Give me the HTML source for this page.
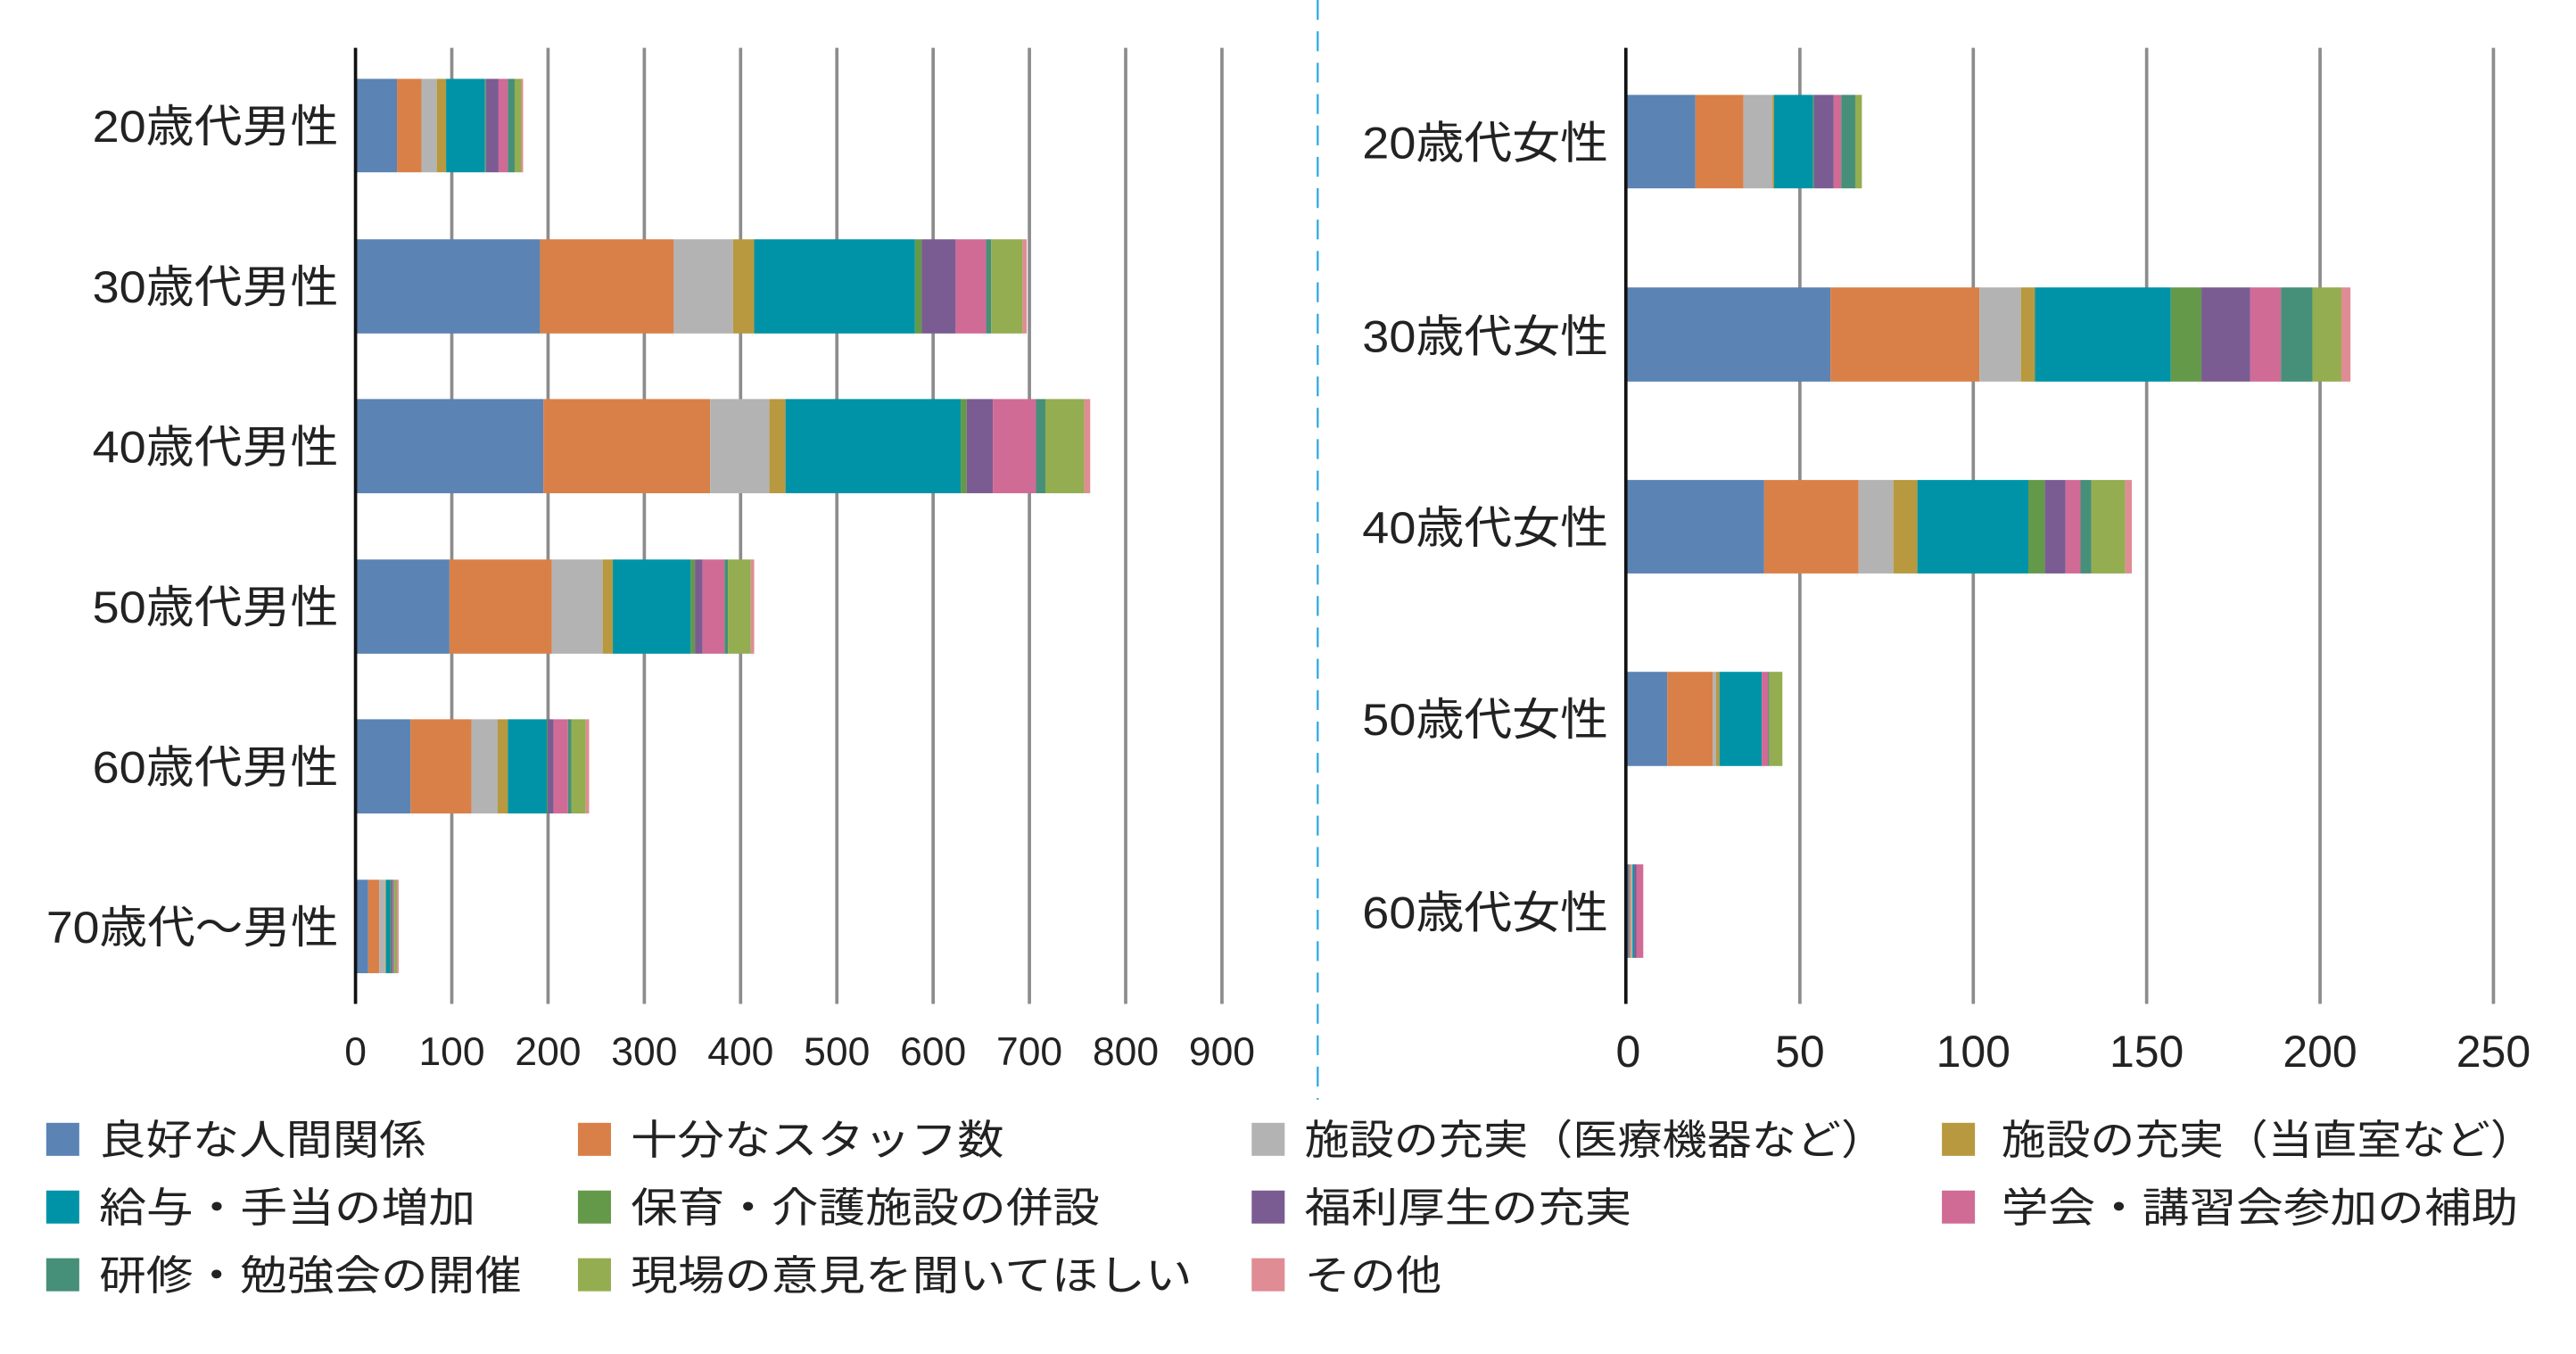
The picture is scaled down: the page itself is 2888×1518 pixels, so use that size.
<!DOCTYPE html>
<html><head><meta charset="utf-8"><style>html,body{margin:0;padding:0;background:#fff}svg{display:block}text{font-family:"Liberation Sans","Noto Sans CJK JP",sans-serif;fill:#222}</style></head><body>
<svg width="2888" height="1518" viewBox="0 0 1560 820" preserveAspectRatio="none" xmlns="http://www.w3.org/2000/svg">
<rect width="1560" height="820" fill="#fff"/>
<!-- left grid -->
<g stroke="#8c8c8c" stroke-width="2">
<line x1="273.6" y1="29" x2="273.6" y2="608"/><line x1="331.9" y1="29" x2="331.9" y2="608"/><line x1="390.2" y1="29" x2="390.2" y2="608"/><line x1="448.5" y1="29" x2="448.5" y2="608"/><line x1="506.8" y1="29" x2="506.8" y2="608"/><line x1="565.1" y1="29" x2="565.1" y2="608"/><line x1="623.4" y1="29" x2="623.4" y2="608"/><line x1="681.7" y1="29" x2="681.7" y2="608"/><line x1="740" y1="29" x2="740" y2="608"/>
<line x1="1090" y1="29" x2="1090" y2="608"/><line x1="1195" y1="29" x2="1195" y2="608"/><line x1="1300" y1="29" x2="1300" y2="608"/><line x1="1405" y1="29" x2="1405" y2="608"/><line x1="1510" y1="29" x2="1510" y2="608"/>
</g>
<g transform="scale(0.5126,0.4225)">
<g transform="translate(0,113)"><rect x="420" width="49" height="134" fill="#5b83b4"/><rect x="469" width="29" height="134" fill="#d98049"/><rect x="498" width="18" height="134" fill="#b3b3b3"/><rect x="516" width="11" height="134" fill="#b8993f"/><rect x="527" width="46" height="134" fill="#0093a7"/><rect x="573" width="1" height="134" fill="#64994a"/><rect x="574" width="15" height="134" fill="#7b5c92"/><rect x="589" width="11" height="134" fill="#d06b96"/><rect x="600" width="8" height="134" fill="#468f78"/><rect x="608" width="8" height="134" fill="#93ad50"/><rect x="616" width="2" height="134" fill="#df8c94"/></g>
<g transform="translate(0,343)"><rect x="420" width="218" height="135" fill="#5b83b4"/><rect x="638" width="158" height="135" fill="#d98049"/><rect x="796" width="70" height="135" fill="#b3b3b3"/><rect x="866" width="25" height="135" fill="#b8993f"/><rect x="891" width="190" height="135" fill="#0093a7"/><rect x="1081" width="8" height="135" fill="#64994a"/><rect x="1089" width="40" height="135" fill="#7b5c92"/><rect x="1129" width="36" height="135" fill="#d06b96"/><rect x="1165" width="6" height="135" fill="#468f78"/><rect x="1171" width="37" height="135" fill="#93ad50"/><rect x="1208" width="5" height="135" fill="#df8c94"/></g>
<g transform="translate(0,572)"><rect x="420" width="222" height="135" fill="#5b83b4"/><rect x="642" width="197" height="135" fill="#d98049"/><rect x="839" width="70" height="135" fill="#b3b3b3"/><rect x="909" width="19" height="135" fill="#b8993f"/><rect x="928" width="207" height="135" fill="#0093a7"/><rect x="1135" width="7" height="135" fill="#64994a"/><rect x="1142" width="31" height="135" fill="#7b5c92"/><rect x="1173" width="51" height="135" fill="#d06b96"/><rect x="1224" width="11" height="135" fill="#468f78"/><rect x="1235" width="46" height="135" fill="#93ad50"/><rect x="1281" width="7" height="135" fill="#df8c94"/></g>
<g transform="translate(0,802)"><rect x="420" width="111" height="135" fill="#5b83b4"/><rect x="531" width="121" height="135" fill="#d98049"/><rect x="652" width="60" height="135" fill="#b3b3b3"/><rect x="712" width="12" height="135" fill="#b8993f"/><rect x="724" width="92" height="135" fill="#0093a7"/><rect x="816" width="5" height="135" fill="#64994a"/><rect x="821" width="9" height="135" fill="#7b5c92"/><rect x="830" width="26" height="135" fill="#d06b96"/><rect x="856" width="4" height="135" fill="#468f78"/><rect x="860" width="27" height="135" fill="#93ad50"/><rect x="887" width="4" height="135" fill="#df8c94"/></g>
<g transform="translate(0,1031)"><rect x="420" width="65" height="135" fill="#5b83b4"/><rect x="485" width="72" height="135" fill="#d98049"/><rect x="557" width="31" height="135" fill="#b3b3b3"/><rect x="588" width="12" height="135" fill="#b8993f"/><rect x="600" width="46" height="135" fill="#0093a7"/><rect x="646" width="1" height="135" fill="#64994a"/><rect x="647" width="7" height="135" fill="#7b5c92"/><rect x="654" width="17" height="135" fill="#d06b96"/><rect x="671" width="4" height="135" fill="#468f78"/><rect x="675" width="17" height="135" fill="#93ad50"/><rect x="692" width="4" height="135" fill="#df8c94"/></g>
<g transform="translate(0,1261)"><rect x="420" width="15" height="134" fill="#5b83b4"/><rect x="435" width="13" height="134" fill="#d98049"/><rect x="448" width="7" height="134" fill="#b3b3b3"/><rect x="455" width="1" height="134" fill="#b8993f"/><rect x="456" width="5" height="134" fill="#0093a7"/><rect x="461" width="1" height="134" fill="#64994a"/><rect x="462" width="2" height="134" fill="#7b5c92"/><rect x="464" width="1" height="134" fill="#d06b96"/><rect x="465" width="1" height="134" fill="#468f78"/><rect x="466" width="3" height="134" fill="#93ad50"/><rect x="469" width="2" height="134" fill="#df8c94"/></g>
</g>
<g transform="translate(778,0) scale(0.5015,0.4225)">
<g transform="translate(0,136)"><rect x="412" width="84" height="134" fill="#5b83b4"/><rect x="496" width="58" height="134" fill="#d98049"/><rect x="554" width="35" height="134" fill="#b3b3b3"/><rect x="589" width="2" height="134" fill="#b8993f"/><rect x="591" width="47" height="134" fill="#0093a7"/><rect x="638" width="1" height="134" fill="#64994a"/><rect x="639" width="24" height="134" fill="#7b5c92"/><rect x="663" width="9" height="134" fill="#d06b96"/><rect x="672" width="17" height="134" fill="#468f78"/><rect x="689" width="8" height="134" fill="#93ad50"/></g>
<g transform="translate(0,412)"><rect x="412" width="247" height="135" fill="#5b83b4"/><rect x="659" width="180" height="135" fill="#d98049"/><rect x="839" width="50" height="135" fill="#b3b3b3"/><rect x="889" width="17" height="135" fill="#b8993f"/><rect x="906" width="164" height="135" fill="#0093a7"/><rect x="1070" width="37" height="135" fill="#64994a"/><rect x="1107" width="59" height="135" fill="#7b5c92"/><rect x="1166" width="37" height="135" fill="#d06b96"/><rect x="1203" width="38" height="135" fill="#468f78"/><rect x="1241" width="35" height="135" fill="#93ad50"/><rect x="1276" width="11" height="135" fill="#df8c94"/></g>
<g transform="translate(0,688)"><rect x="412" width="167" height="134" fill="#5b83b4"/><rect x="579" width="114" height="134" fill="#d98049"/><rect x="693" width="42" height="134" fill="#b3b3b3"/><rect x="735" width="29" height="134" fill="#b8993f"/><rect x="764" width="134" height="134" fill="#0093a7"/><rect x="898" width="20" height="134" fill="#64994a"/><rect x="918" width="25" height="134" fill="#7b5c92"/><rect x="943" width="18" height="134" fill="#d06b96"/><rect x="961" width="13" height="134" fill="#468f78"/><rect x="974" width="41" height="134" fill="#93ad50"/><rect x="1015" width="8" height="134" fill="#df8c94"/></g>
<g transform="translate(0,963)"><rect x="412" width="50" height="135" fill="#5b83b4"/><rect x="462" width="55" height="135" fill="#d98049"/><rect x="517" width="4" height="135" fill="#b3b3b3"/><rect x="521" width="4" height="135" fill="#b8993f"/><rect x="525" width="51" height="135" fill="#0093a7"/><rect x="576" width="8" height="135" fill="#d06b96"/><rect x="584" width="1" height="135" fill="#468f78"/><rect x="585" width="16" height="135" fill="#93ad50"/></g>
<g transform="translate(0,1239)"><rect x="412" width="4" height="134" fill="#5b83b4"/><rect x="416" width="2" height="134" fill="#d98049"/><rect x="418" width="2" height="134" fill="#b3b3b3"/><rect x="420" width="2" height="134" fill="#0093a7"/><rect x="422" width="3" height="134" fill="#7b5c92"/><rect x="425" width="8" height="134" fill="#d06b96"/></g>
</g>
<!-- axes -->
<line x1="215.3" y1="29" x2="215.3" y2="608" stroke="#111" stroke-width="2"/>
<line x1="984.6" y1="29" x2="984.6" y2="608" stroke="#111" stroke-width="2"/>
<line x1="798" y1="0" x2="798" y2="666" stroke="#29a8e0" stroke-width="1.2" stroke-dasharray="12,7"/>
<!-- left category labels -->
<g font-size="27" text-anchor="end">
<text x="205" y="86" textLength="149" lengthAdjust="spacingAndGlyphs">20歳代男性</text>
<text x="205" y="183" textLength="149" lengthAdjust="spacingAndGlyphs">30歳代男性</text>
<text x="205" y="280" textLength="149" lengthAdjust="spacingAndGlyphs">40歳代男性</text>
<text x="205" y="377" textLength="149" lengthAdjust="spacingAndGlyphs">50歳代男性</text>
<text x="205" y="474" textLength="149" lengthAdjust="spacingAndGlyphs">60歳代男性</text>
<text x="205" y="571" textLength="177" lengthAdjust="spacingAndGlyphs">70歳代～男性</text>
<text x="974" y="96" textLength="149" lengthAdjust="spacingAndGlyphs">20歳代女性</text>
<text x="974" y="213" textLength="149" lengthAdjust="spacingAndGlyphs">30歳代女性</text>
<text x="974" y="329" textLength="149" lengthAdjust="spacingAndGlyphs">40歳代女性</text>
<text x="974" y="445" textLength="149" lengthAdjust="spacingAndGlyphs">50歳代女性</text>
<text x="974" y="562" textLength="149" lengthAdjust="spacingAndGlyphs">60歳代女性</text>
</g>
<g font-size="24" text-anchor="middle">
<text x="215.3" y="645">0</text><text x="273.6" y="645">100</text><text x="331.9" y="645">200</text><text x="390.2" y="645">300</text><text x="448.5" y="645">400</text><text x="506.8" y="645">500</text><text x="565.1" y="645">600</text><text x="623.4" y="645">700</text><text x="681.7" y="645">800</text><text x="740" y="645">900</text>
</g>
<g font-size="27" text-anchor="middle">
<text x="986" y="646">0</text><text x="1090" y="646">50</text><text x="1195" y="646">100</text><text x="1300" y="646">150</text><text x="1405" y="646">200</text><text x="1510" y="646">250</text>
</g>
<!-- legend -->
<g>
<rect x="28" y="680" width="20" height="20" fill="#5b83b4"/><rect x="350" y="680" width="20" height="20" fill="#d98049"/><rect x="758" y="680" width="20" height="20" fill="#b3b3b3"/><rect x="1176" y="680" width="20" height="20" fill="#b8993f"/>
<rect x="28" y="721" width="20" height="20" fill="#0093a7"/><rect x="350" y="721" width="20" height="20" fill="#64994a"/><rect x="758" y="721" width="20" height="20" fill="#7b5c92"/><rect x="1176" y="721" width="20" height="20" fill="#d06b96"/>
<rect x="28" y="762" width="20" height="20" fill="#468f78"/><rect x="350" y="762" width="20" height="20" fill="#93ad50"/><rect x="758" y="762" width="20" height="20" fill="#df8c94"/>
</g>
<g font-size="25">
<text x="60" y="699" textLength="198" lengthAdjust="spacingAndGlyphs">良好な人間関係</text>
<text x="382" y="699" textLength="226" lengthAdjust="spacingAndGlyphs">十分なスタッフ数</text>
<text x="790" y="699" textLength="352" lengthAdjust="spacingAndGlyphs">施設の充実（医療機器など）</text>
<text x="1212" y="699" textLength="323" lengthAdjust="spacingAndGlyphs">施設の充実（当直室など）</text>
<text x="60" y="740" textLength="228" lengthAdjust="spacingAndGlyphs">給与・手当の増加</text>
<text x="382" y="740" textLength="284" lengthAdjust="spacingAndGlyphs">保育・介護施設の併設</text>
<text x="790" y="740" textLength="198" lengthAdjust="spacingAndGlyphs">福利厚生の充実</text>
<text x="1212" y="740" textLength="313" lengthAdjust="spacingAndGlyphs">学会・講習会参加の補助</text>
<text x="60" y="781" textLength="256" lengthAdjust="spacingAndGlyphs">研修・勉強会の開催</text>
<text x="382" y="781" textLength="340" lengthAdjust="spacingAndGlyphs">現場の意見を聞いてほしい</text>
<text x="790" y="781" textLength="83" lengthAdjust="spacingAndGlyphs">その他</text>
</g>
</svg>
</body></html>
